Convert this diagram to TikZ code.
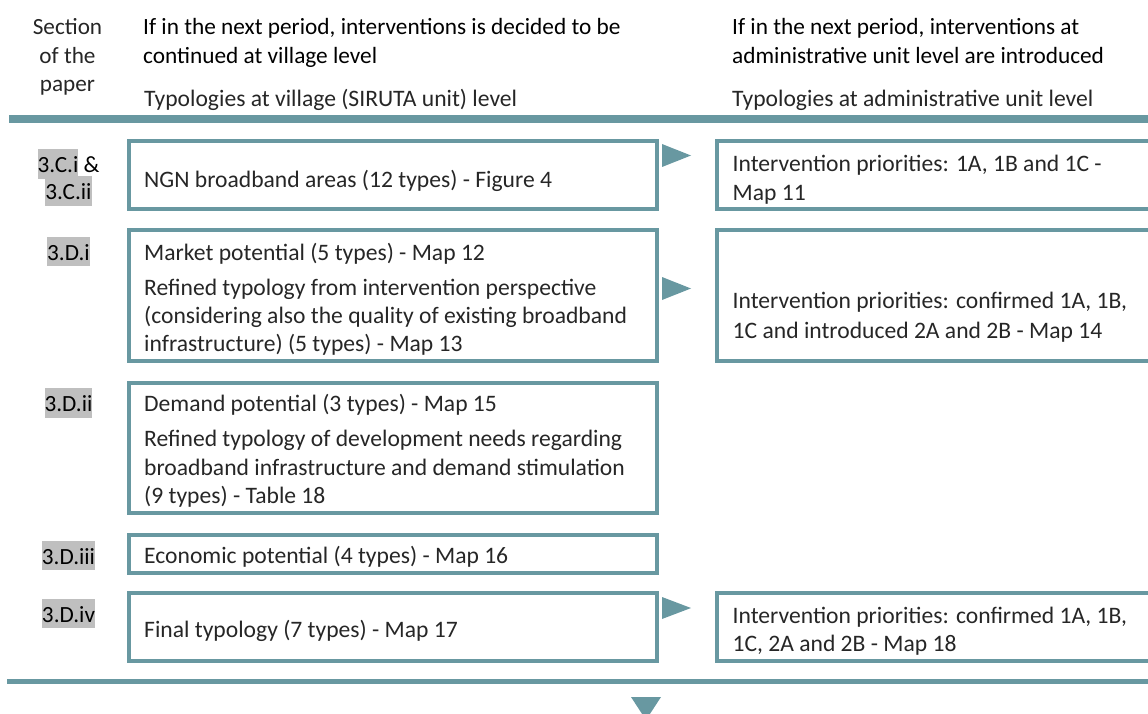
\documentclass[tikz,border=0pt]{standalone}
\usepackage{fontspec}
\setmainfont{Carlito}
\definecolor{teal1}{RGB}{104,152,161}
\definecolor{hlgray}{RGB}{191,191,191}
\newcommand{\hlbox}[1]{{\setlength{\fboxsep}{0pt}\colorbox{hlgray}{\rule[-6bp]{0pt}{29.5bp}#1}}}
\begin{document}
\begin{tikzpicture}[x=1bp,y=-1bp,
  lbox/.style={draw=teal1, line width=4bp, inner sep=0pt, minimum width=528bp},
  rbox/.style={draw=teal1, line width=4bp, inner sep=0pt, minimum width=460bp},
  txt/.style={anchor=base west, inner sep=0pt, font=\fontsize{23.6bp}{28bp}\selectfont, text=black!85},
  hd/.style={anchor=base west, inner sep=0pt, font=\fontsize{23.3bp}{28bp}\selectfont, text=black},
  hdc/.style={anchor=base, inner sep=0pt, font=\fontsize{23.2bp}{28bp}\selectfont, text=black!85},
  sec/.style={anchor=base, inner sep=0pt, font=\fontsize{23.2bp}{28bp}\selectfont, text=black},
  tri/.style={fill=teal1}]
\useasboundingbox (0,0) rectangle (1148,714);
\clip (0,0) rectangle (1148,714);
% header
\node[hdc] (h1) at (67.5,35) {Section};
\node[hdc] (h2) at (67.5,63.5) {of the};
\node[hdc] (h3) at (67.5,92) {paper};
\node[hd] (hl1) at (143,35) {If in the next period, interventions is decided to be};
\node[hd] (hl2) at (143,63.5) {continued at village level};
\node[txt] (hl3) at (144,107) {Typologies at village (SIRUTA unit) level};
\node[hd] (hr1) at (732,35) {If in the next period, interventions at};
\node[hd] (hr2) at (732,63.5) {administrative unit level are introduced};
\node[txt] (hr3) at (732,107) {Typologies at administrative unit level};
% rules
\coordinate (t0) at (9,119); \coordinate (t1) at (1160,119);
\draw[teal1, line width=8bp] (t0) -- (t1);
\coordinate (u0) at (7,681.5); \coordinate (u1) at (1160,681.5);
\draw[teal1, line width=4.5bp] (u0) -- (u1);
% left boxes
\node[lbox, minimum height=68bp] (b1) at (393,175) {};
\node[lbox, minimum height=131bp] (b2) at (393,295.5) {};
\node[lbox, minimum height=130bp] (b3) at (393,448) {};
\node[lbox, minimum height=38bp] (b4) at (393,554) {};
\node[lbox, minimum height=68bp] (b5) at (393,627) {};
% right boxes
\node[rbox, minimum height=68bp] (r1) at (947,175) {};
\node[rbox, minimum height=131bp] (r2) at (947,295.5) {};
\node[rbox, minimum height=68bp] (r5) at (947,627) {};
% triangles
\fill[tri] (662,144) -- (691,155.5) -- (662,167) -- cycle;
\fill[tri] (662,277) -- (691,288.5) -- (662,300) -- cycle;
\fill[tri] (662,597) -- (691,608) -- (662,619) -- cycle;
\fill[tri] (631,697) -- (661,697) -- (646,720) -- cycle;
% section labels
\node[sec] (s1) at (68.5,173) {\hlbox{3.C.i} \&};
\node[sec] (s1b) at (68.5,200) {\hlbox{3.C.ii}};
\node[sec] (s2) at (68.5,260) {\hlbox{3.D.i}};
\node[sec] (s3) at (68.5,411.5) {\hlbox{3.D.ii}};
\node[sec] (s4) at (68.5,564) {\hlbox{3.D.iii}};
\node[sec] (s5) at (68.5,622) {\hlbox{3.D.iv}};
% left texts
\node[txt] (t1a) at (144,187.3) {NGN broadband areas (12 types) - Figure 4};
\node[txt] (t2a) at (144,260) {Market potential (5 types) - Map 12};
\node[txt] (t2b) at (144,295) {Refined typology from intervention perspective};
\node[txt] (t2c) at (144,323) {(considering also the quality of existing broadband};
\node[txt] (t2d) at (144,351.5) {infrastructure) (5 types) - Map 13};
\node[txt] (t3a) at (144,411.5) {Demand potential (3 types) - Map 15};
\node[txt] (t3b) at (144,446.5) {Refined typology of development needs regarding};
\node[txt] (t3c) at (144,475) {broadband infrastructure and demand stimulation};
\node[txt] (t3d) at (144,503.5) {(9 types) - Table 18};
\node[txt] (t4a) at (144,563.3) {Economic potential (4 types) - Map 16};
\node[txt] (t5a) at (144,637.7) {Final typology (7 types) - Map 17};
% right texts
\node[txt] (q1a) at (732.5,171.7) {Intervention priorities: 1A, 1B and 1C -};
\node[txt] (q1b) at (732.5,201) {Map 11};
\node[txt] (q2a) at (732.5,308.3) {Intervention priorities: confirmed 1A, 1B,};
\node[txt] (q2b) at (732.5,338) {1C and introduced 2A and 2B - Map 14};
\node[txt] (q5a) at (732.5,623.3) {Intervention priorities: confirmed 1A, 1B,};
\node[txt] (q5b) at (732.5,651.7) {1C, 2A and 2B - Map 18};
\end{tikzpicture}
\end{document}
